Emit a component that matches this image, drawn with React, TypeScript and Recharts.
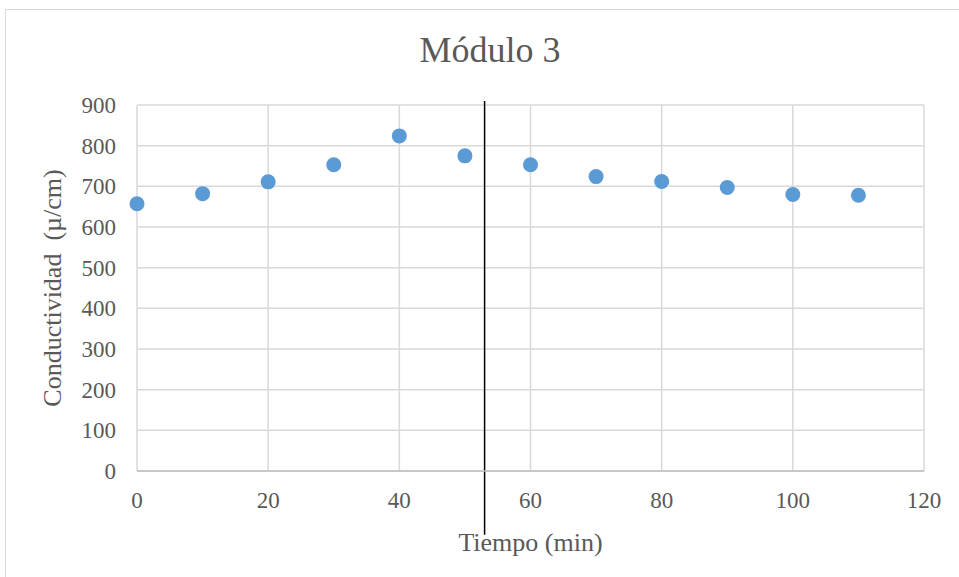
import { CartesianGrid, Label, ReferenceLine, Scatter, ScatterChart, XAxis, YAxis } from "recharts";

const tiempo = [0, 10, 20, 30, 40, 50, 60, 70, 80, 90, 100, 110];
const conductividad = [657, 682, 711, 753, 824, 775, 753, 724, 712, 697, 680, 678];
const xTicks = [0, 20, 40, 60, 80, 100, 120];
const yTicks = [0, 100, 200, 300, 400, 500, 600, 700, 800, 900];
const marcaX = 53;
const marcaY = [910, -157];

const data = tiempo.map((t, i) => ({ t, c: conductividad[i] }));

const font = '"Liberation Serif", "Times New Roman", serif';
const textGray = "#595959";

function Dot(props: { cx?: number; cy?: number }) {
  if (props.cx == null || props.cy == null) return null;
  return <circle cx={props.cx} cy={props.cy} r={7.5} fill="#5B9BD5" />;
}

export default function App() {
  return (
    <div style={{ position: "absolute", left: 0, top: 0, width: 959, height: 577, overflow: "hidden", background: "#fff", fontFamily: font }}>
      <div style={{ position: "absolute", left: 5, top: 9, width: 960, height: 580, border: "1px solid #d9d9d9", boxSizing: "border-box" }} />
      <div
        style={{
          position: "absolute",
          left: 340,
          top: 32,
          width: 300,
          textAlign: "center",
          fontSize: 36,
          lineHeight: "36px",
          color: textGray,
          fontFamily: font,
        }}
      >
        Módulo 3
      </div>
      <div style={{ position: "absolute", left: 0, top: 0 }}>
        <ScatterChart width={959} height={577} margin={{ top: 105, right: 35, bottom: 0, left: 0 }}>
          <CartesianGrid stroke="#d9d9d9" strokeWidth={1.5} />
          <XAxis
            type="number"
            dataKey="t"
            domain={[0, 120]}
            ticks={xTicks}
            height={106}
            tickSize={0}
            tickMargin={21}
            axisLine={{ stroke: "#bfbfbf", strokeWidth: 1.5 }}
            tick={{ fill: textGray, fontSize: 23, fontFamily: font }}
          >
            <Label
              value="Tiempo (min)"
              position="insideBottom"
              offset={26}
              style={{ fill: textGray, fontSize: 26, fontFamily: font }}
            />
          </XAxis>
          <YAxis
            type="number"
            dataKey="c"
            domain={[0, 900]}
            ticks={yTicks}
            width={137}
            tickSize={0}
            tickMargin={21}
            axisLine={false}
            tick={{ fill: textGray, fontSize: 23, fontFamily: font }}
          >
            <Label
              value={"Conductividad\u00a0 (µ/cm)"}
              angle={-90}
              position="insideLeft"
              offset={52}
              style={{ fill: textGray, fontSize: 26, fontFamily: font, textAnchor: "middle" }}
            />
          </YAxis>
          <ReferenceLine
            segment={[
              { x: marcaX, y: marcaY[0] },
              { x: marcaX, y: marcaY[1] },
            ]}
            stroke="#000"
            strokeWidth={1.5}
            ifOverflow="visible"
          />
          <Scatter data={data} shape={<Dot />} isAnimationActive={false} />
        </ScatterChart>
      </div>
    </div>
  );
}
